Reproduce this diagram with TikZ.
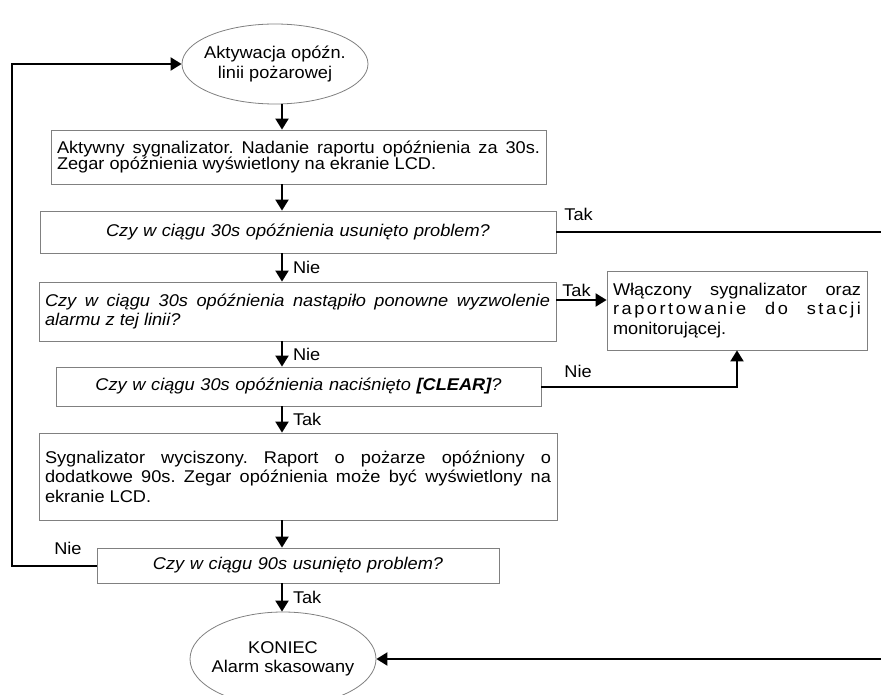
\documentclass[tikz,border=0pt]{standalone}
\usepackage{fontspec}
\setmainfont{Liberation Sans}[FakeStretch=1.07]
\usetikzlibrary{shapes.geometric,arrows.meta}
\newcommand{\flowfont}{\fontsize{17}{19.5}\selectfont\frenchspacing}
\begin{document}
\begin{tikzpicture}[x=1pt,y=-1pt,font=\flowfont,
    terminal/.style={ellipse,draw=gray,line width=0.8pt,minimum width=186pt,inner xsep=-6pt,inner ysep=0pt,align=center},
    stepbox/.style={rectangle,draw=gray,line width=0.8pt,inner xsep=6pt,inner ysep=0pt,align=justify},
    askbox/.style={stepbox,font=\flowfont\itshape},
    flow/.style={-{Triangle[length=11pt,width=13pt]},line width=2pt},
    answer/.style={inner sep=2pt,font=\flowfont}]
    \useasboundingbox (0,0) rectangle (881,695);

    \draw (275,64) node[terminal,minimum height=80pt] (start) {Aktywacja opóźn.\\linii pożarowej};
    \draw (298.5,157) node[stepbox,text width=483pt,minimum height=54pt,font=\fontsize{17}{16.5}\selectfont\frenchspacing] (sygn) {Aktywny sygnalizator. Nadanie raportu opóźnienia za 30s.\linebreak Zegar opóźnienia wyświetlony na ekranie LCD.};
    \draw (298,232) node[askbox,align=center,text width=504pt,minimum height=42pt] (q1) {Czy w ciągu 30s opóźnienia usunięto problem?};
    \draw (297.5,311.5) node[askbox,text width=505pt,minimum height=59pt] (q2) {Czy w ciągu 30s opóźnienia nastąpiło ponowne wyzwolenie\linebreak alarmu z tej linii?};
    \draw (737,310.5) node[stepbox,text width=248pt,minimum height=79pt] (alarm) {Włączony sygnalizator oraz\linebreak {\addfontfeature{LetterSpace=15}raportowanie do stacji}\linebreak monitorującej.};
    \draw (298.5,386.5) node[askbox,align=center,text width=473pt,minimum height=39pt] (q3) {Czy w ciągu 30s opóźnienia naciśnięto \textbf{[CLEAR]}?};
    \draw (298,476.5) node[stepbox,text width=506pt,minimum height=87pt] (wycisz) {Sygnalizator wyciszony. Raport o pożarze opóźniony o\linebreak dodatkowe 90s. Zegar opóźnienia może być wyświetlony na\linebreak ekranie LCD.};
    \draw (298,565.5) node[askbox,align=center,text width=390pt,minimum height=35pt] (q4) {Czy w ciągu 90s usunięto problem?};
    \draw (283,659) node[terminal,minimum height=94pt] (end) {KONIEC\\Alarm skasowany};

    \coordinate (axis) at (282,0);
    \coordinate (rt) at (886,0);

    \draw[flow] (start.south -| axis) -- (sygn.north -| axis);
    \draw[flow] (sygn.south -| axis) -- (q1.north -| axis);
    \draw[flow] (q1.south -| axis) -- node[answer,right=8pt] {Nie} (q2.north -| axis);
    \draw[flow] (q2.south -| axis) -- node[answer,right=8pt] {Nie} (q3.north -| axis);
    \draw[flow] (q3.south -| axis) -- node[answer,right=8pt] {Tak} (wycisz.north -| axis);
    \draw[flow] (wycisz.south -| axis) -- (q4.north -| axis);
    \draw[flow] (q4.south -| axis) -- node[answer,right=8pt] {Tak} (end.north -| axis);

    \draw[flow] (q1.east) -- node[answer,pos=0,anchor=south west,xshift=5pt,yshift=8pt] {Tak} (q1.east -| rt) |- (end.east);
    \draw[flow] ([yshift=11.5pt]q2.east) coordinate (t2) -- node[answer,pos=0.4,above] {Tak} (t2 -| alarm.west);
    \draw[flow] (q3.east) -| node[answer,pos=0,anchor=south west,xshift=20pt,yshift=6pt] {Nie} (alarm.south);
    \draw[flow] (q4.west) -- node[answer,pos=0,anchor=south east,xshift=-12pt,yshift=8pt] {Nie} ++(-85,0) |- (start.west);
\end{tikzpicture}
\end{document}
